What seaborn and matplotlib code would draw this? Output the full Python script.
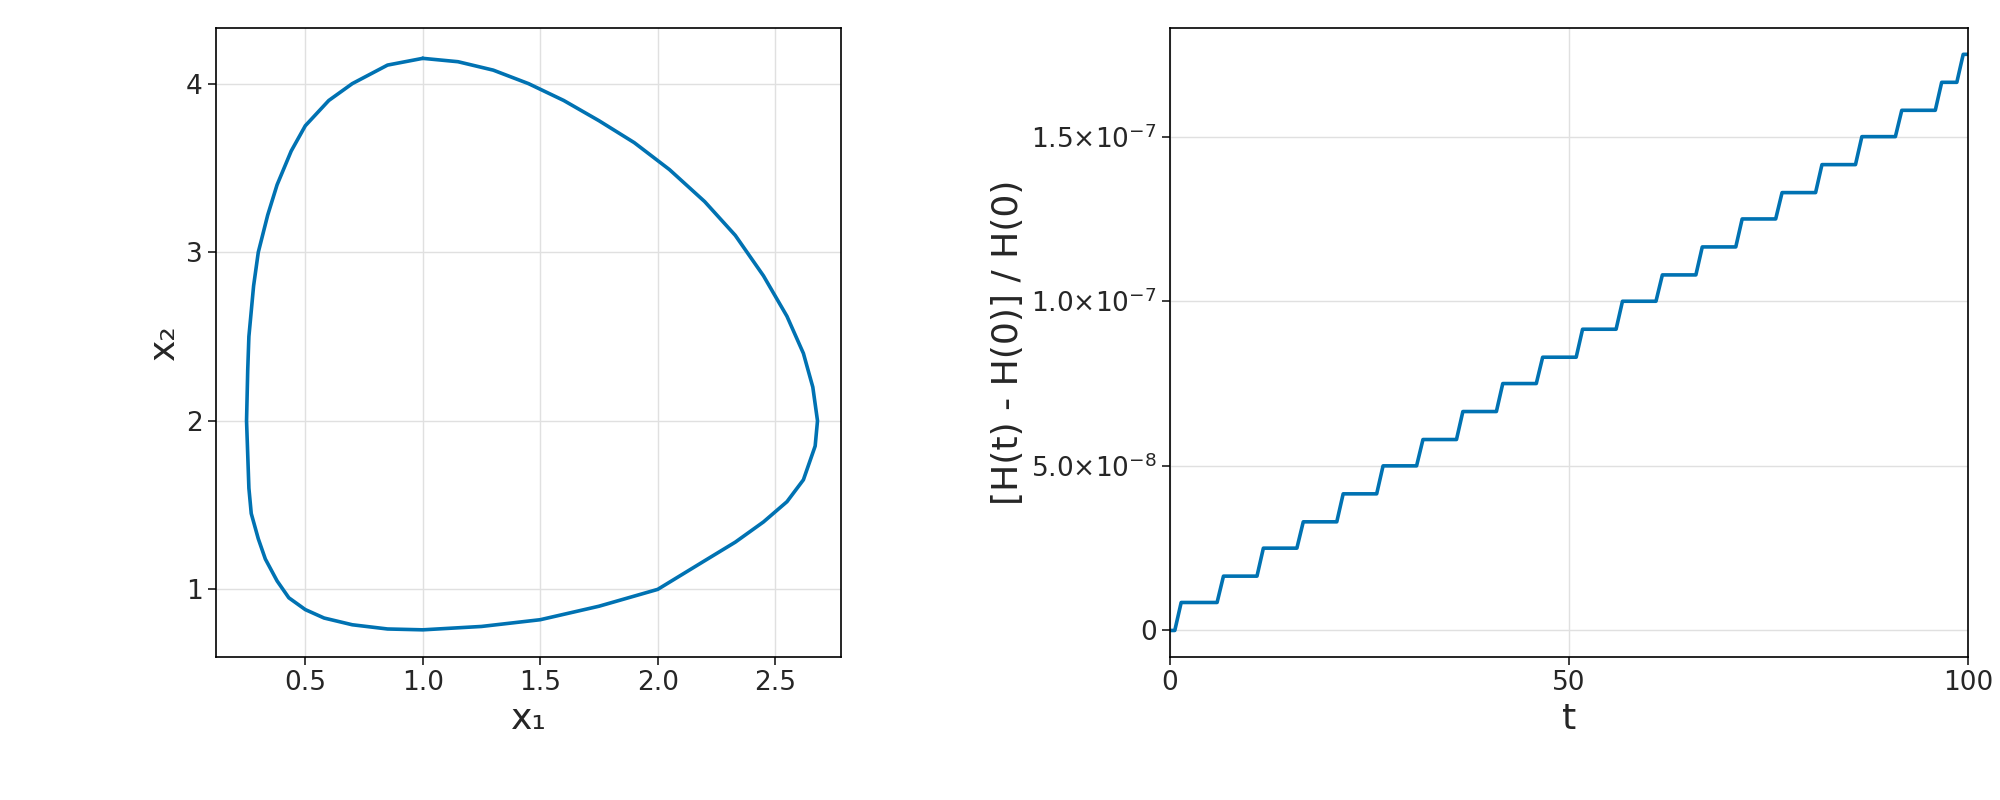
import numpy as np
import matplotlib
matplotlib.use("Agg")
import matplotlib.pyplot as plt
import seaborn as sns
from matplotlib.ticker import FuncFormatter

sns.set_theme(style="white")
plt.rcParams['font.family'] = ['DejaVu Sans']

# orbit points
x1 = [1.0, 1.15, 1.3, 1.45, 1.6, 1.75, 1.9, 2.05, 2.2, 2.33, 2.45, 2.55, 2.62, 2.66, 2.68, 2.67, 2.62, 2.55, 2.45, 2.33, 2.2, 2.0, 1.75, 1.5, 1.25, 1.0, 0.85, 0.7, 0.58, 0.5, 0.43, 0.38, 0.33, 0.3, 0.27, 0.26, 0.25, 0.255, 0.26, 0.28, 0.3, 0.34, 0.38, 0.44, 0.5, 0.6, 0.7, 0.85, 1.0]
x2 = [4.15, 4.13, 4.08, 4.0, 3.9, 3.78, 3.65, 3.49, 3.3, 3.1, 2.86, 2.62, 2.4, 2.2, 2.0, 1.85, 1.65, 1.52, 1.4, 1.28, 1.17, 1.0, 0.9, 0.82, 0.78, 0.76, 0.765, 0.79, 0.83, 0.88, 0.95, 1.05, 1.18, 1.3, 1.45, 1.6, 2.0, 2.3, 2.5, 2.8, 3.0, 3.22, 3.4, 3.6, 3.75, 3.9, 4.0, 4.11, 4.15]

# energy drift steps
step_times = [1, 6.3, 11.3, 16.3, 21.3, 26.3, 31.3, 36.3, 41.3, 46.3, 51.3, 56.3, 61.3, 66.3, 71.3, 76.3, 81.3, 86.3, 91.3, 96.3, 99]
step_values = [0.85e-8, 1.65e-8, 2.5e-8, 3.3e-8, 4.15e-8, 5.0e-8, 5.8e-8, 6.65e-8, 7.5e-8, 8.3e-8, 9.15e-8, 10.0e-8, 10.8e-8, 11.65e-8, 12.5e-8, 13.3e-8, 14.15e-8, 15.0e-8, 15.8e-8, 16.65e-8, 17.5e-8]

t, h = [0.0], [0.0]
prev = 0.0
for ti, v in zip(step_times, step_values):
    t += [ti - 0.4, ti + 0.4]
    h += [prev, v]
    prev = v
t.append(100.0); h.append(prev)

blue = "#0072b2"
fig = plt.figure(figsize=(20, 8), dpi=100)
ax1 = fig.add_axes([0.108, 0.179, 0.3125, 0.786])
ax2 = fig.add_axes([0.585, 0.179, 0.399, 0.786])

ax1.plot(x1, x2, color=blue, lw=2.6)
ax1.set_xlim(0.12, 2.78); ax1.set_ylim(0.6, 4.33)
ax1.set_xticks([0.5, 1.0, 1.5, 2.0, 2.5]); ax1.set_yticks([1, 2, 3, 4])
ax1.set_xlabel("x₁", fontsize=26); ax1.set_ylabel("x₂", fontsize=26)

sns.lineplot(x=t, y=h, ax=ax2, color=blue, lw=2.6, sort=False)
ax2.set_xlim(0, 100); ax2.set_ylim(-0.8e-8, 1.83e-7)
ax2.set_xticks([0, 50, 100]); ax2.set_yticks([0, 5e-8, 1e-7, 1.5e-7])
def fmt(v, p):
    if v == 0: return "0"
    e = int(np.floor(np.log10(abs(v)))); m = v / 10**e
    return r"%.1f$\times$10$^{%d}$" % (m, e)
ax2.yaxis.set_major_formatter(FuncFormatter(fmt))
ax2.set_xlabel("t", fontsize=26); ax2.set_ylabel("[H(t) - H(0)] / H(0)", fontsize=26)

for ax in (ax1, ax2):
    ax.grid(True, color="#e0e0e0", lw=1)
    ax.tick_params(labelsize=19, left=True, bottom=True, length=6)
    for s in ax.spines.values():
        s.set_color("black"); s.set_linewidth(1.2)

fig.savefig("out.png")
